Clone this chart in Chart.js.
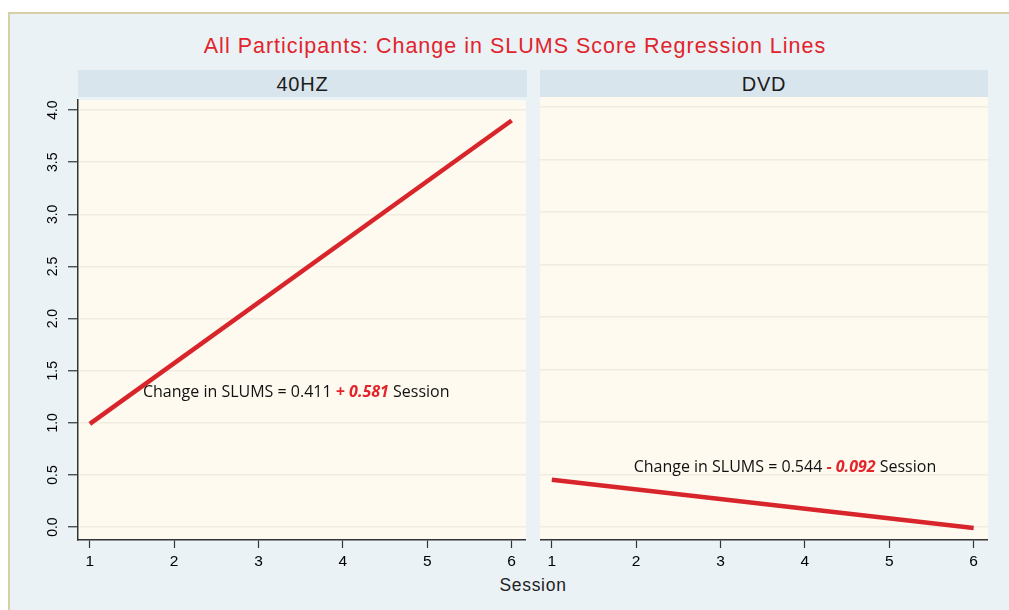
<!DOCTYPE html>
<html>
<head>
<meta charset="utf-8">
<script src="https://cdn.jsdelivr.net/npm/chart.js@4.4.1/dist/chart.umd.min.js"></script>
<style>
    body { margin:0; background:#ffffff; width:1009px; height:610px; overflow:hidden; position:relative; font-family:"Liberation Sans", Arial, sans-serif; }
    #frame { position:absolute; left:8px; top:12px; width:1001px; height:598px; background:#eaf2f6; border-top:2px solid #d6d0a6; border-left:2px solid #d6d0a6; box-sizing:border-box; }
    #title { position:absolute; left:15px; width:1000px; top:34px; text-align:center; color:#e1242b; font-size:21.5px; letter-spacing:1px; line-height:24px; }
    .head { position:absolute; top:70px; height:27px; background:#d9e5ec; color:#1c1c1c; font-size:20px; letter-spacing:0.8px; line-height:28px; text-align:center; }
    #xtitle { position:absolute; left:433px; width:200px; top:574px; text-align:center; color:#222; font-size:17.5px; letter-spacing:0.7px; line-height:22px; }
    .box { position:absolute; }
</style>
</head>
<body>
<div id="frame"></div>
<div id="title">All Participants: Change in SLUMS Score Regression Lines</div>
<div class="head" style="left:78px;width:449px;">40HZ</div>
<div class="head" style="left:540px;width:448px;">DVD</div>
<div class="box" style="left:20px;top:90px;width:506px;height:480px;"><canvas id="chart_40hz" width="506" height="480"></canvas></div>
<div class="box" style="left:540px;top:90px;width:448px;height:480px;"><canvas id="chart_dvd" width="448" height="480"></canvas></div>
<div id="xtitle">Session</div>
<script>
const sessions = [1, 6];
const hz40Change = [0.99, 3.90];
const dvdChange = [0.45, -0.01];
const xTicks = [1, 2, 3, 4, 5, 6];
const yTicks = [0, 0.5, 1, 1.5, 2, 2.5, 3, 3.5, 4];
// equation text: [text, highlighted?]
const hz40Label = [["Change in SLUMS = 0.411 ", false], ["+ 0.581", true], [" Session", false]];
const dvdLabel = [["Change in SLUMS = 0.544 ", false], ["- 0.092", true], [" Session", false]];
const hz40LabelAt = [1.63, 1.29];
const dvdLabelAt = [1.97, 0.57];

Chart.defaults.font.family = "'Liberation Sans', Arial, sans-serif";

let plotBg = {
    id:"plotBg",
    beforeDraw(chart){
        let a = chart.chartArea;
        let ctx = chart.ctx;
        ctx.save();
        ctx.fillStyle = "#fefaf0";
        ctx.fillRect(a.left, a.top, a.right - a.left, a.bottom - a.top);
        ctx.restore();
    }
}

let yLabels = {
    id:"yLabels",
    afterDraw(chart){
        if (!chart.options.plugins.yLabels.show) return;
        let ctx = chart.ctx;
        let y = chart.scales.y;
        ctx.save();
        ctx.fillStyle = "#000";
        ctx.font = "14px 'Liberation Sans', Arial, sans-serif";
        ctx.textAlign = "center";
        ctx.textBaseline = "middle";
        yTicks.forEach(v => {
            ctx.save();
            ctx.translate(chart.chartArea.left - 25, y.getPixelForValue(v));
            ctx.rotate(-Math.PI / 2);
            ctx.fillText(v.toFixed(1), 0, 0);
            ctx.restore();
        });
        ctx.restore();
    }
}

let equation = {
    id:"equation",
    afterDatasetsDraw(chart){
        let opt = chart.options.plugins.equation;
        let ctx = chart.ctx;
        let px = chart.scales.x.getPixelForValue(opt.at[0]);
        let py = chart.scales.y.getPixelForValue(opt.at[1]);
        ctx.save();
        ctx.textBaseline = "middle";
        ctx.textAlign = "left";
        opt.parts.forEach(p => {
            ctx.font = p[1] ? "italic bold 16px 'Open Sans', sans-serif" : "16px 'Open Sans', sans-serif";
            ctx.fillStyle = p[1] ? "#e3242b" : "#111";
            ctx.fillText(p[0], px, py);
            px += ctx.measureText(p[0]).width;
        });
        ctx.restore();
    }
}

function makePanel(id, values, parts, at, showY){
    let ctx = document.getElementById(id);
    return new Chart(ctx, {
        type:"line",
        data:{
            datasets:[
                {
                    data:sessions.map((s, i) => ({x:s, y:values[i]})),
                    borderColor:"#d8252b",
                    borderWidth:4.5,
                    pointRadius:0,
                    tension:0
                }
            ]
        },
        options:{
            responsive:false,
            animation:false,
            layout:{ padding:{ top:7, right:0, left:0, bottom:0 } },
            plugins:{
                legend:{ display:false },
                tooltip:{ enabled:false },
                yLabels:{ show:showY },
                equation:{ parts:parts, at:at }
            },
            scales:{
                x:{
                    type:"linear",
                    min:0.86,
                    max:6.17,
                    afterBuildTicks:(s) => { s.ticks = xTicks.map(v => ({value:v})); },
                    afterFit:(s) => { s.height = 30; },
                    grid:{ drawOnChartArea:false, tickLength:8, tickColor:"#333", tickWidth:1.2 },
                    border:{ color:"#333", width:1.5 },
                    ticks:{ color:"#000", font:{ size:15.5 }, padding:4, maxRotation:0, autoSkip:false }
                },
                y:{
                    type:"linear",
                    min:-0.124,
                    max:4.095,
                    afterBuildTicks:(s) => { s.ticks = yTicks.map(v => ({value:v})); },
                    afterFit:(s) => { s.width = showY ? 58 : 0; },
                    grid:{ color:"#f1ece0", lineWidth:1.5, drawTicks:showY, tickLength:10, tickColor:"#333", tickWidth:1.2 },
                    border:{ display:showY, color:"#333", width:1.5 },
                    ticks:{ display:showY, color:"rgba(0,0,0,0)" }
                }
            }
        },
        plugins:[plotBg, yLabels, equation]
    })
}

makePanel("chart_40hz", hz40Change, hz40Label, hz40LabelAt, true);
makePanel("chart_dvd", dvdChange, dvdLabel, dvdLabelAt, false);
</script>
</body>
</html>
